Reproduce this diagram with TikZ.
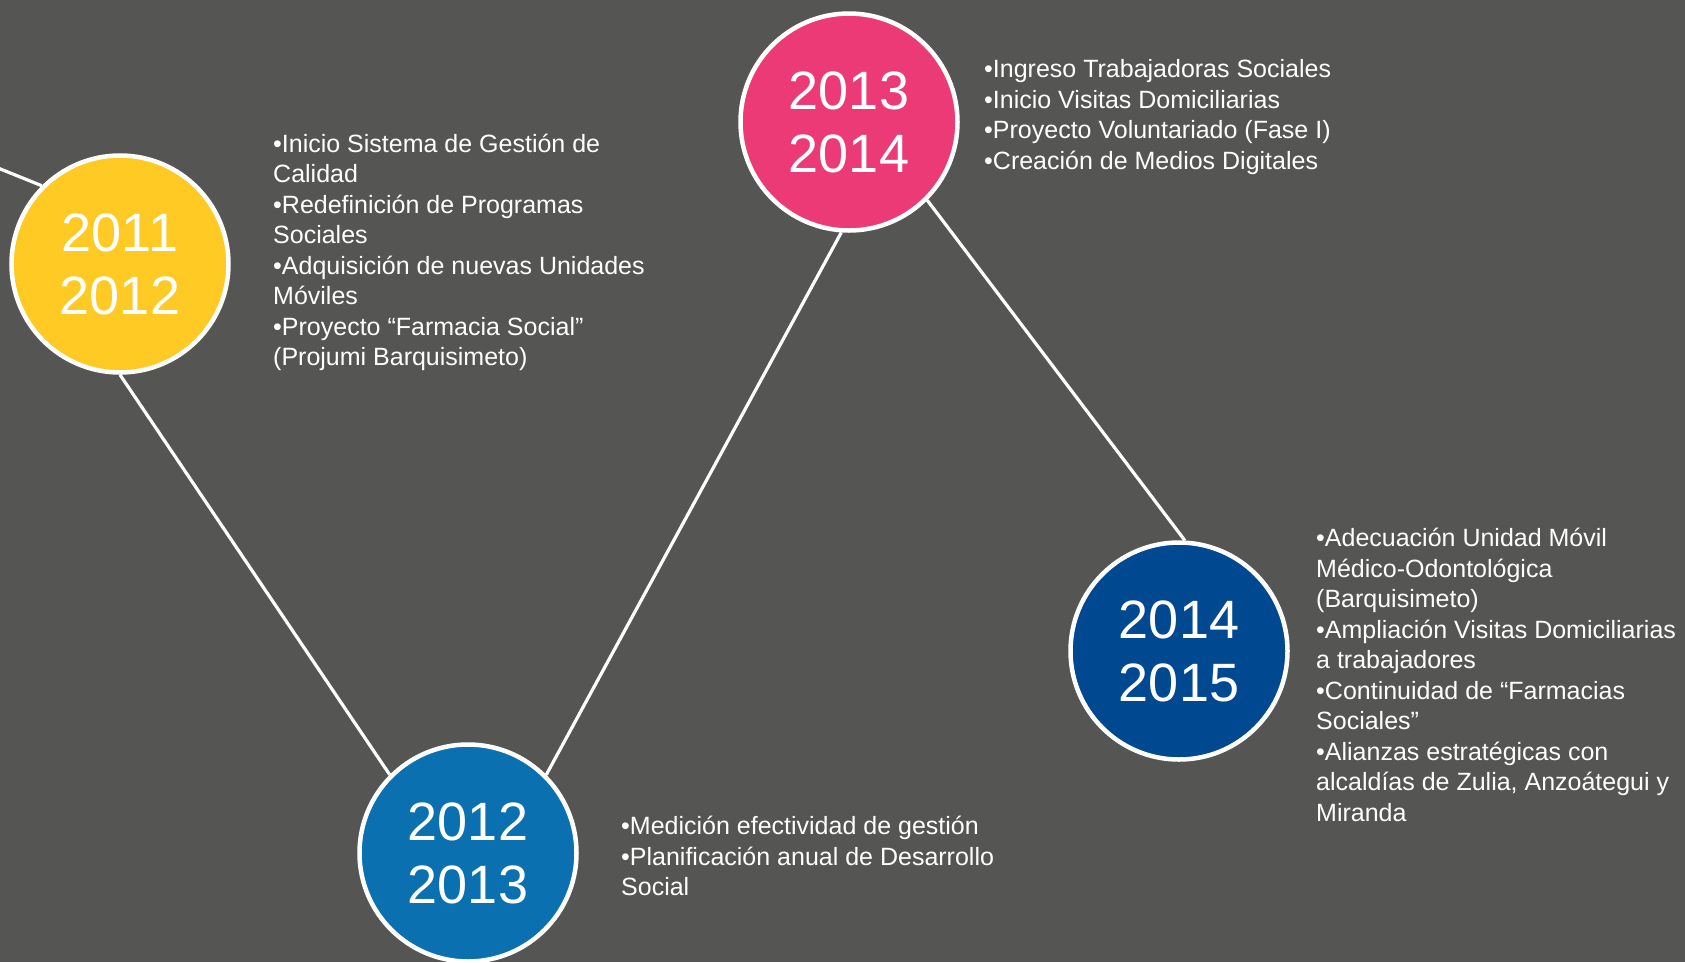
\documentclass[tikz,border=0pt]{standalone}
\usepackage{fontspec}
\setmainfont{Liberation Sans}

\definecolor{slidebg}{HTML}{555554}
\definecolor{yearA}{HTML}{FFCA24}
\definecolor{yearB}{HTML}{0B70B0}
\definecolor{yearC}{HTML}{EC3A76}
\definecolor{yearD}{HTML}{004990}

\begin{document}
\begin{tikzpicture}[x=1pt, y=-1pt,
    year/.style={circle, draw=white, line width=4.5pt, minimum size=217pt,
      inner sep=0pt, text=white, align=center, font=\fontsize{54}{63}\selectfont},
    note/.style={anchor=north west, inner sep=0pt, text=white, align=left,
      font=\fontsize{25}{30.5}\selectfont},
    link/.style={draw=white, line width=3.2pt}]
  \fill[slidebg] (0,0) rectangle (1685,962);
  \useasboundingbox (0,0) rectangle (1685,962);

  % years
  \node[year, fill=yearA] (y11) at (120,264) {2011\\2012};
  \node[year, fill=yearB] (y12) at (468,853) {2012\\2013};
  \node[year, fill=yearC] (y13) at (849,122) {2013\\2014};
  \node[year, fill=yearD] (y14) at (1179,651) {2014\\2015};
  \coordinate (start) at (-10,164.8);

  \draw[link] (start) -- (y11.north west);
  \draw[link] (y11.south) -- (y12.north west);
  \draw[link] (y12.north east) -- (y13.266);
  \draw[link] (y13.south east) -- (y14.87);

  % notes
  \node[note] (n11) at (273,130.7) {\strut•Inicio Sistema de Gestión de\\Calidad\\
    •Redefinición de Programas\\Sociales\\•Adquisición de nuevas Unidades\\
    Móviles\\•Proyecto “Farmacia Social”\\(Projumi Barquisimeto)};
  \node[note] (n12) at (621,813) {\strut•Medición efectividad de gestión\\
    •Planificación anual de Desarrollo\\Social};
  \node[note] (n13) at (984,56.4) {\strut•Ingreso Trabajadoras Sociales\\
    •Inicio Visitas Domiciliarias\\•Proyecto Voluntariado (Fase I)\\
    •Creación de Medios Digitales};
  \node[note] (n14) at (1316,525) {\strut•Adecuación Unidad Móvil\\
    Médico-Odontológica\\(Barquisimeto)\\•Ampliación Visitas Domiciliarias\\
    a trabajadores\\•Continuidad de “Farmacias\\Sociales”\\
    •Alianzas estratégicas con\\alcaldías de Zulia, Anzoátegui y\\Miranda};
\end{tikzpicture}
\end{document}
